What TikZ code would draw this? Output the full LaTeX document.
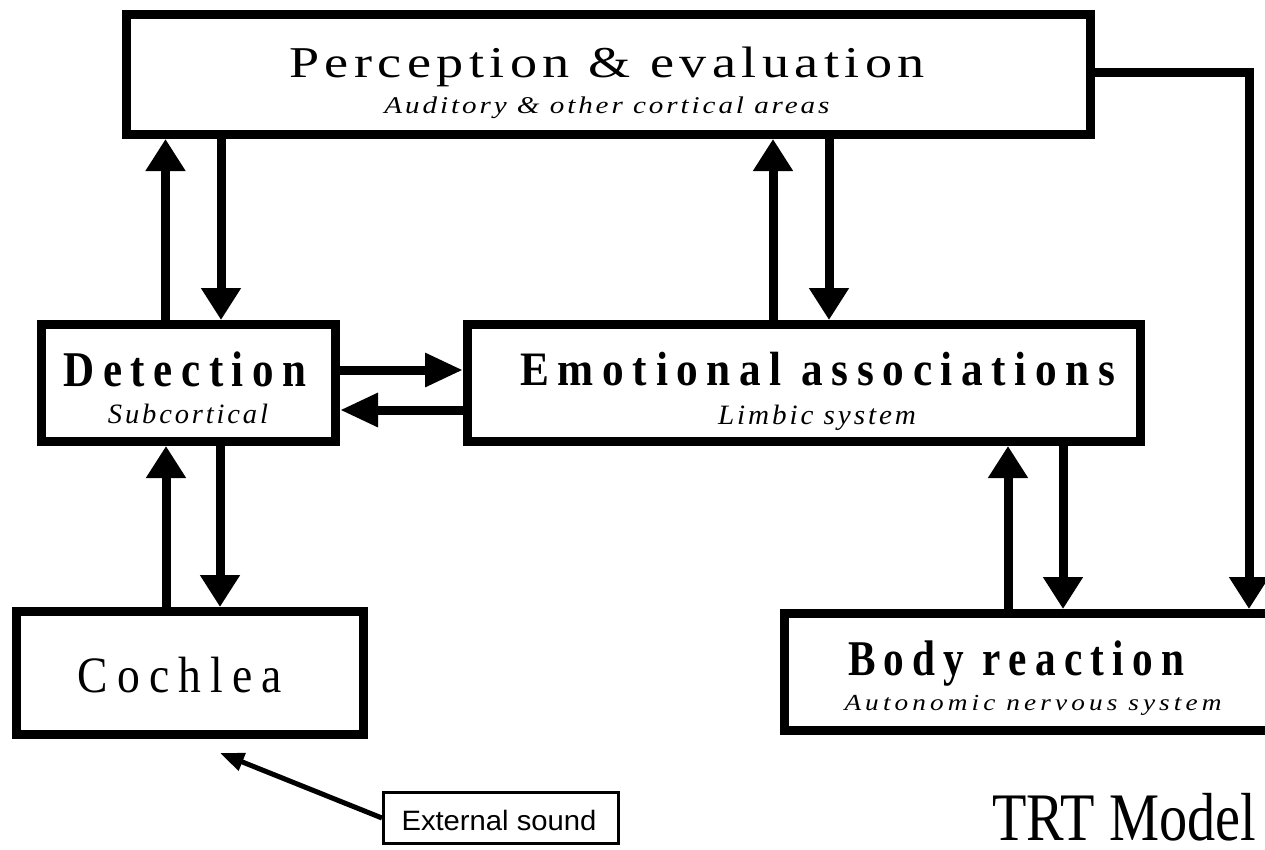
\documentclass[tikz,border=0pt]{standalone}
\usepackage{graphicx}
\usepackage{fontspec}
\setmainfont{Liberation Serif}
\newfontfamily\sansf{Liberation Sans}
\usetikzlibrary{arrows.meta}
% #1 width (pt), #2 size (pt), #3 letterspace, #4 font switches, #5 text
\newcommand{\lbl}[5]{\resizebox{#1pt}{\height}{\fontsize{#2pt}{#2pt}\selectfont#4\addfontfeature{LetterSpace=#3}#5}}
\tikzset{
  box/.style={draw, line width=9pt, fill=white, rectangle, inner sep=0pt},
  smallbox/.style={draw, line width=3pt, fill=white, rectangle, inner sep=0pt},
  lab/.style={inner sep=0pt, anchor=base},
  varr/.style={line width=9pt, -{Triangle[length=32pt,width=38pt]}},
  harr/.style={line width=9pt, -{Triangle[length=38pt,width=32pt]}},
  sarr/.style={line width=5pt, -{Triangle[length=24pt,width=18pt]}},
}
\begin{document}
\begin{tikzpicture}[x=1pt,y=-1pt]
\useasboundingbox (0,0) rectangle (1265,849);
\clip (0,0) rectangle (1265,849);
% boxes
\node[box, minimum width=964pt, minimum height=120pt] (perc) at (608.5,74.5) {};
\node[box, minimum width=294pt, minimum height=117pt] (det) at (188.5,383) {};
\node[box, minimum width=673pt, minimum height=117pt] (emo) at (804,383) {};
\node[box, minimum width=347pt, minimum height=123pt] (coch) at (190,673) {};
\node[box, minimum width=515pt, minimum height=117pt] (body) at (1042,672) {};
\node[smallbox, minimum width=235pt, minimum height=51pt] (ext) at (501,818) {};
\coordinate (snd) at (220,753);
% labels
\node[lab] (perc-t) at (607,77) {\lbl{635}{44}{10}{}{Perception \& evaluation}};
\node[lab] (perc-s) at (607,113) {\lbl{445}{24}{10}{\itshape}{Auditory \& other cortical areas}};
\node[lab] (det-t) at (185,386) {\lbl{243}{50}{20}{\bfseries}{Detection}};
\node[lab] (det-s) at (188,423) {\lbl{160}{28}{10}{\itshape}{Subcortical}};
\node[lab] (emo-t) at (818,385) {\lbl{595}{48}{20}{\bfseries}{Emotional associations}};
\node[lab] (emo-s) at (817,424) {\lbl{198}{28}{10}{\itshape}{Limbic system}};
\node[lab] (coch-t) at (180,692) {\lbl{204}{51}{20}{}{Cochlea}};
\node[lab] (body-t) at (1016,675) {\lbl{336}{50}{20}{\bfseries}{Body reaction}};
\node[lab] (body-s) at (1033,710) {\lbl{377}{23}{15}{\itshape}{Autonomic nervous system}};
\node[lab] (ext-t) at (499,830) {\lbl{195}{28}{0}{\sansf}{External sound}};
\node[lab] (title) at (1124,840) {\lbl{264}{68}{0}{}{TRT Model}};
% connectors
\draw[varr] ([xshift=-23pt]det.north) -- ([xshift=-23pt]det.north |- perc.south);
\draw[varr] ([xshift=32.5pt]det.north |- perc.south) -- ([xshift=32.5pt]det.north);
\draw[varr] ([xshift=-31pt]emo.north) -- ([xshift=-31pt]emo.north |- perc.south);
\draw[varr] ([xshift=25pt]emo.north |- perc.south) -- ([xshift=25pt]emo.north);
\draw[harr] ([yshift=13pt]det.east) -- ([yshift=13pt]det.east -| emo.west);
\draw[harr] ([yshift=-27pt]emo.west) -- ([yshift=-27pt]emo.west -| det.east);
\draw[varr] ([xshift=-24pt]coch.north) -- ([xshift=-24pt]coch.north |- det.south);
\draw[varr] ([xshift=30pt]coch.north |- det.south) -- ([xshift=30pt]coch.north);
\draw[varr] ([xshift=-34pt]body.north) -- ([xshift=-34pt]body.north |- emo.south);
\draw[varr] ([xshift=21pt]body.north |- emo.south) -- ([xshift=21pt]body.north);
\draw[varr] ([yshift=2.5pt]perc.east) -| ([xshift=207pt]body.north);
\draw[sarr] (ext.west) -- (snd);
\end{tikzpicture}
\end{document}
